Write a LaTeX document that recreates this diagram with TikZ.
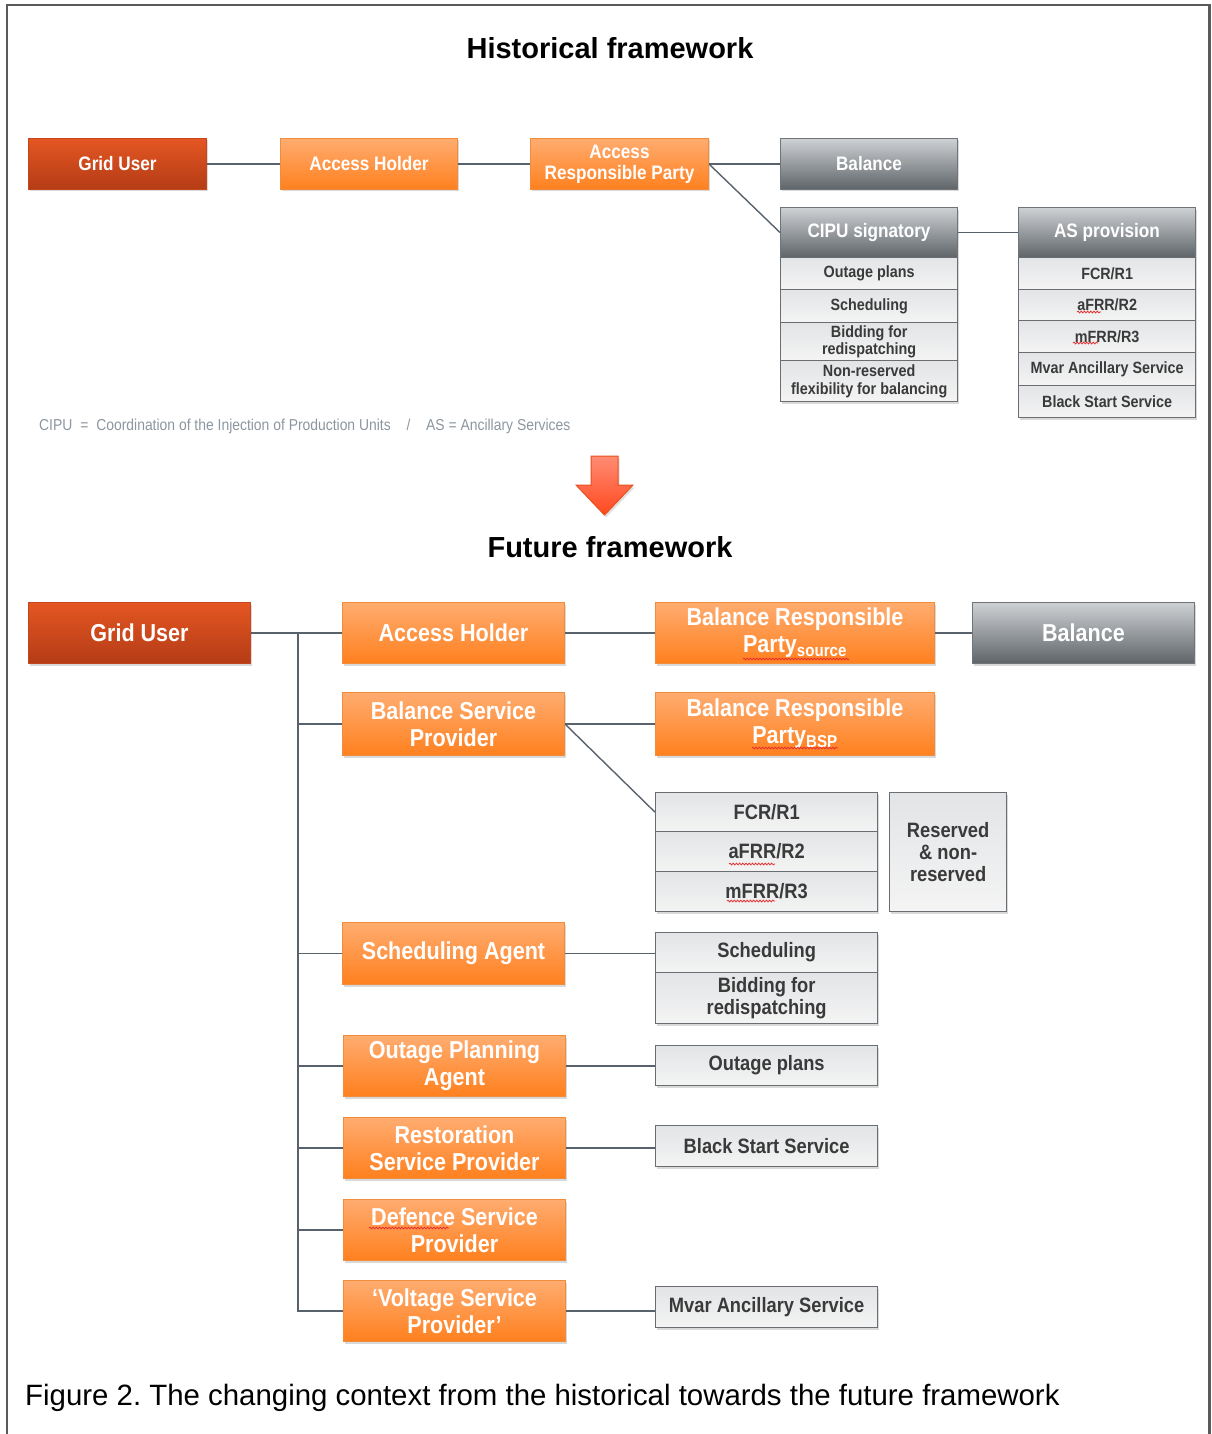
\documentclass[tikz,border=0pt]{standalone}
\usepackage{fontspec}
\setmainfont{Liberation Sans}
\newfontfamily\boxfont[FakeStretch=0.88]{Liberation Sans}
\usetikzlibrary{shadows,decorations.pathmorphing}

\definecolor{spellred}{RGB}{228,48,48}
\definecolor{linegrey}{RGB}{88,98,108}
\definecolor{redtop}{RGB}{228,86,34}
\definecolor{redbot}{RGB}{180,60,22}
\definecolor{redrim}{RGB}{196,70,28}
\definecolor{ortop}{RGB}{255,172,112}
\definecolor{orbot}{RGB}{255,128,30}
\definecolor{orrim}{RGB}{240,140,60}
\definecolor{gtop}{RGB}{206,209,212}
\definecolor{gbot}{RGB}{94,100,104}
\definecolor{grim}{RGB}{110,116,120}
\definecolor{ltop}{RGB}{226,228,230}
\definecolor{lbot}{RGB}{244,244,244}
\definecolor{lrim}{RGB}{106,110,114}
\definecolor{rowtext}{RGB}{58,58,58}
\definecolor{notegrey}{RGB}{140,150,160}
\definecolor{framegrey}{RGB}{90,90,90}
\definecolor{arrtop}{RGB}{255,140,115}
\definecolor{arrbot}{RGB}{255,72,30}
\definecolor{arrrim}{RGB}{232,80,30}

\tikzset{
  box/.style={anchor=north west, inner sep=1pt, align=center, line width=1pt,
    drop shadow={opacity=0.3, shadow xshift=1.2pt, shadow yshift=-2pt}},
  wh/.style 2 args={minimum width=#1pt, minimum height=#2pt},
  redbox/.style={box, draw=redrim, top color=redtop, bottom color=redbot, text=white},
  orbox/.style={box, draw=orrim, top color=ortop, bottom color=orbot, text=white},
  greybox/.style={box, draw=grim, top color=gtop, bottom color=gbot, text=white},
  rowbox/.style={box, draw=lrim, line width=1.3pt, top color=ltop, bottom color=lbot, text=rowtext},
  hfont/.style={font=\boxfont\bfseries\fontsize{19.5}{21}\selectfont},
  hrow/.style={font=\boxfont\bfseries\fontsize{16.3}{17.5}\selectfont},
  ffont/.style={font=\boxfont\bfseries\fontsize{24.5}{27}\selectfont},
  frow/.style={font=\boxfont\bfseries\fontsize{20.8}{22}\selectfont},
  conn/.style={draw=linegrey, line width=1.4pt},
  heading/.style={font=\bfseries\fontsize{29}{33}\selectfont, inner sep=0pt},
  spell/.style={draw=spellred, line width=0.8pt, decorate,
    decoration={snake, amplitude=0.9pt, segment length=3.2pt}},
}

\begin{document}
\begin{tikzpicture}[x=1pt, y=-1pt]
\useasboundingbox (0,0) rectangle (1211,1434);

% frame
\draw[framegrey, line width=2.6pt] (7,1440) -- (7,5) -- (1209.5,5) -- (1209.5,1440);

% ---------------- historical framework ----------------
\node[heading] (t1) at (610,48) {Historical framework};

\node[redbox,  wh={178}{51}, hfont] (gu1)  at (28,138)  {Grid User};
\node[orbox,   wh={177}{51}, hfont] (ah1)  at (280,138) {Access Holder};
\node[orbox,   wh={178}{51}, hfont] (arp)  at (530,138) {Access\\Responsible Party};
\node[greybox, wh={177}{51}, hfont] (bal1) at (780,138) {Balance};

\node[greybox, wh={177}{50}, hfont] (cipu) at (780,207) {CIPU signatory};
\node[rowbox,  wh={177}{32}, hrow]  (c1)   at (780,257) {Outage plans};
\node[rowbox,  wh={177}{33}, hrow]  (c2)   at (780,289) {Scheduling};
\node[rowbox,  wh={177}{38}, hrow]  (c3)   at (780,322) {Bidding for\\redispatching};
\node[rowbox,  wh={177}{41}, hrow]  (c4)   at (780,360) {Non-reserved\\flexibility for balancing};

\node[greybox, wh={177}{50}, hfont] (asp)  at (1018,207) {AS provision};
\node[rowbox,  wh={177}{32}, hrow]  (a1)   at (1018,257) {FCR/R1};
\node[rowbox,  wh={177}{31}, hrow]  (a2)   at (1018,289) {aFRR/R2};
\node[rowbox,  wh={177}{32}, hrow]  (a3)   at (1018,320) {mFRR/R3};
\node[rowbox,  wh={177}{33}, hrow]  (a4)   at (1018,352) {Mvar Ancillary Service};
\node[rowbox,  wh={177}{32}, hrow]  (a5)   at (1018,385) {Black Start Service};

\draw[conn] (gu1.east) -- (ah1.west);
\draw[conn] (ah1.east) -- (arp.west);
\draw[conn] (arp.east) -- (bal1.west);
\draw[conn] (arp.east) -- (cipu.west);
\draw[conn] (cipu.east) -- (asp.west);

\node[anchor=west, inner sep=0pt, text=notegrey, font=\boxfont\fontsize{15.8}{17}\selectfont] (note) at (39,426)
  {CIPU\enspace=\enspace Coordination of the Injection of Production Units\quad/\quad AS = Ancillary Services};

% transition arrow
\draw[draw=arrrim, line width=1pt, top color=arrtop, bottom color=arrbot,
      drop shadow={opacity=0.25, shadow xshift=1.5pt, shadow yshift=-2.5pt}]
  (591,456) -- (618,456) -- (618,485) -- (633,485) -- (604.5,515) -- (576,485) -- (591,485) -- cycle;

% ---------------- future framework ----------------
\node[heading] (t2) at (610,547) {Future framework};

\node[redbox,  wh={222}{61}, ffont] (gu2)  at (28,602)  {Grid User};
\node[orbox,   wh={222}{61}, ffont] (ah2)  at (342,602) {Access Holder};
\node[orbox,   wh={279}{61}, ffont] (brps) at (655,602) {Balance Responsible\\Party\textsubscript{source}};
\node[greybox, wh={222}{61}, ffont] (bal2) at (972,602) {Balance};

\node[orbox,   wh={222}{63}, ffont] (bsp)  at (342,692) {Balance Service\\Provider};
\node[orbox,   wh={279}{63}, ffont] (brpb) at (655,692) {Balance Responsible\\Party\textsubscript{BSP}};

\node[rowbox,  wh={222}{39}, frow]  (f1)   at (655,792) {FCR/R1};
\node[rowbox,  wh={222}{40}, frow]  (f2)   at (655,831) {aFRR/R2};
\node[rowbox,  wh={222}{40}, frow]  (f3)   at (655,871) {mFRR/R3};
\node[rowbox,  wh={117}{119}, frow] (res)  at (889,792) {Reserved\\\& non-\\reserved};

\node[orbox,   wh={222}{62}, ffont] (sa)   at (342,922) {Scheduling Agent};
\node[rowbox,  wh={222}{40}, frow]  (s1)   at (655,932) {Scheduling};
\node[rowbox,  wh={222}{51}, frow]  (s2)   at (655,972) {Bidding for\\redispatching};

\node[orbox,   wh={222}{61}, ffont] (opa)  at (343,1035) {Outage Planning\\Agent};
\node[rowbox,  wh={222}{40}, frow]  (op)   at (655,1045) {Outage plans};

\node[orbox,   wh={222}{61}, ffont] (rsp)  at (343,1117) {Restoration\\Service Provider};
\node[rowbox,  wh={222}{41}, frow]  (bss)  at (655,1125) {Black Start Service};

\node[orbox,   wh={222}{61}, ffont] (dsp)  at (343,1199) {Defence Service\\Provider};

\node[orbox,   wh={222}{61}, ffont] (vsp)  at (343,1280) {‘Voltage Service\\Provider’};
\node[rowbox,  wh={222}{41}, frow]  (mv)   at (655,1286) {Mvar Ancillary Service};

% grid user trunk and branches
\path (gu2.east) ++(47,0) coordinate (tk);
\draw[conn, line width=2.6pt] (gu2.east) -- (tk);
\draw[conn] (tk) -- (ah2.west);
\draw[conn] (tk) |- (vsp.west);
\foreach \n in {bsp,sa,opa,rsp,dsp}
  \draw[conn] (tk |- \n.west) -- (\n.west);

\draw[conn] (ah2.east) -- (brps.west);
\draw[conn] (brps.east) -- (bal2.west);
\draw[conn] (bsp.east) -- (brpb.west);
\draw[conn] (bsp.east) -- (f1.west);
\draw[conn] (sa.east) -- (sa.east -| s1.west);
\draw[conn] (opa.east) -- (opa.east -| op.west);
\draw[conn] (rsp.east) -- (rsp.east -| bss.west);
\draw[conn] (vsp.east) -- (vsp.east -| mv.west);

% spell-checker squiggles under flagged words
\draw[spell] (1077,312) -- (1101,312);
\draw[spell] (1073,343) -- (1098,343);
\draw[spell] (743,659) -- (849,659);
\draw[spell] (752,748) -- (838,748);
\draw[spell] (729,864) -- (775,864);
\draw[spell] (727,901) -- (775,901);
\draw[spell] (369,1228) -- (449,1228);

% caption
\node[anchor=base west, inner sep=0pt, font=\frenchspacing\fontsize{29.4}{33}\selectfont] (cap) at (25,1405)
  {Figure 2. The changing context from the historical towards the future framework};
\end{tikzpicture}
\end{document}
